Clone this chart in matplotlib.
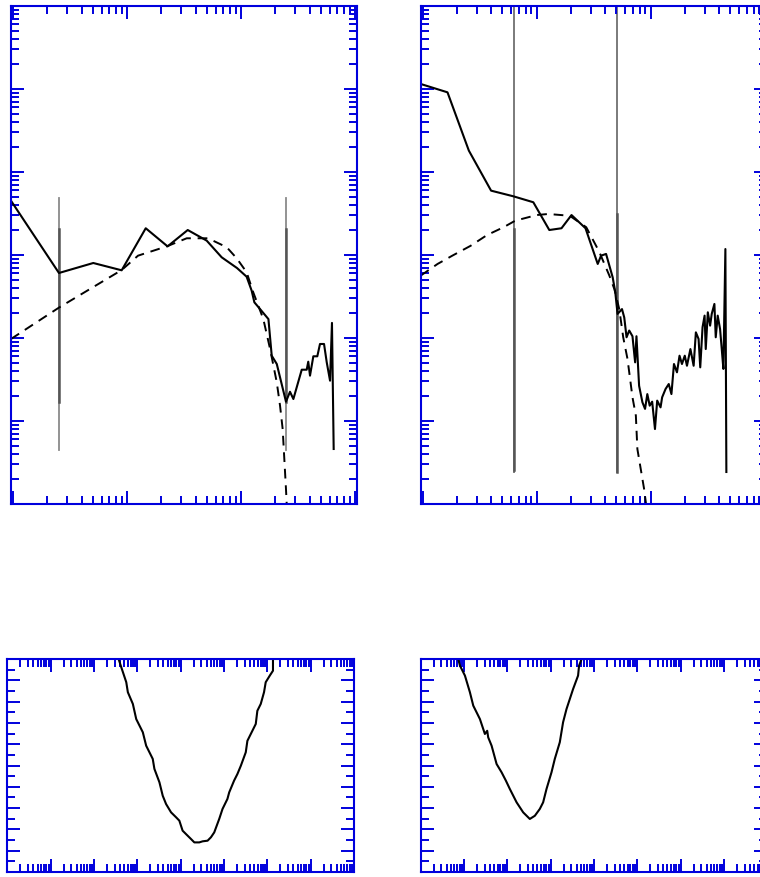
import matplotlib
matplotlib.use("Agg")
import matplotlib.pyplot as plt
from matplotlib.ticker import LogLocator, MultipleLocator, NullFormatter

# ---------------- data ----------------
# Top-left panel
tl_solid_x = [0.96, 2.53, 5.06, 8.98, 14.6, 22.7, 34.1, 50.0, 67.7, 92.2, 112, 124, 131, 142,
              174, 186, 206, 248, 269, 288, 341, 377, 389, 403, 431, 467, 493, 535, 565, 604,
              628, 650]
tl_solid_y = [4.51, 0.607, 0.801, 0.654, 2.10, 1.27, 2.00, 1.49, 0.938, 0.697, 0.548, 0.372,
              0.269, 0.236, 0.169, 0.0612, 0.0486, 0.0171, 0.0225, 0.0184, 0.0415, 0.0415,
              0.0518, 0.0352, 0.0602, 0.0602, 0.0847, 0.0847, 0.0509, 0.0306, 0.152, 0.0046]
tl_dash_x = [0.96, 2.55, 8.98, 12.5, 22.3, 33.4, 51.4, 75.0, 91.7, 112, 128, 157, 180, 206,
             220, 232, 248, 253]
tl_dash_y = [0.0973, 0.234, 0.659, 0.982, 1.27, 1.59, 1.59, 1.24, 0.912, 0.620, 0.356, 0.169,
             0.0736, 0.0292, 0.0153, 0.0080, 0.00152, 0.00087]
tl_vlines_x = [2.53, 248]
tl_vline_span = (4.86, 0.00448)
tl_vline_dark = (2.06, 0.0169)

# Top-right panel
tr_solid_x = [0.96, 1.65, 2.54, 3.98, 6.26, 9.34, 12.9, 16.5, 20.2, 26.8, 34.3, 36.7, 40.6,
              46.4, 48.9, 51.2, 56.0, 58.6, 61.4, 64.8, 69.2, 73.0, 75.0, 79.1, 84.6, 89.2,
              93.4, 98.0, 103, 109, 114, 122, 126, 135, 144, 152, 160, 170, 179, 188, 199,
              208, 223, 238, 249, 263, 272, 285, 297, 304, 317, 332, 343, 362, 372, 387,
              406, 420, 434, 452, 461]
tr_solid_y = [115, 91.2, 18.1, 5.96, 5.09, 4.32, 2.00, 2.10, 3.03, 2.10, 0.780, 0.982, 1.03,
              0.538, 0.356, 0.195, 0.223, 0.177, 0.102, 0.123, 0.105, 0.0509, 0.105, 0.0266,
              0.0168, 0.0140, 0.0211, 0.0153, 0.0171, 0.0080, 0.0176, 0.0146, 0.0193, 0.0243,
              0.0279, 0.0211, 0.0486, 0.0386, 0.0612, 0.0486, 0.0612, 0.0463, 0.0736, 0.0463,
              0.117, 0.0973, 0.0443, 0.135, 0.186, 0.0736, 0.204, 0.141, 0.195, 0.257, 0.102,
              0.186, 0.128, 0.0736, 0.0424, 1.18, 0.00243]
tr_dash_x = [0.96, 1.35, 1.82, 2.63, 3.67, 5.12, 6.48, 10.0, 12.6, 19.5, 27.2, 33.2, 35.5,
             43.4, 48.0, 53.0, 57.4, 62.6, 69.2, 74.1, 76.4, 87.5, 92.9]
tr_dash_y = [0.564, 0.780, 0.982, 1.29, 1.74, 2.16, 2.59, 3.03, 3.12, 2.97, 2.16, 1.29, 1.08,
             0.564, 0.389, 0.223, 0.102, 0.0558, 0.0193, 0.0116, 0.0046, 0.00152, 0.0008]
tr_vlines_x = [6.26, 50.2]
tr_vline_span = (2000, 0.00243)
tr_vline_dark = [(2.06, 0.0026), (3.12, 0.00243)]

# Bottom-left panel
bl_x = [3.52e2, 3.70e2, 4.27e2, 5.56e2, 6.05e2, 7.89e2, 9.44e2, 1.34e3, 1.60e3, 2.27e3, 2.48e3,
        3.24e3, 3.86e3, 4.61e3, 6.01e3, 7.83e3, 9.33e3, 1.11e4, 1.33e4, 1.73e4, 2.07e4,
        2.69e4, 3.21e4, 4.18e4, 5.00e4, 5.96e4, 7.76e4, 9.25e4, 1.20e5, 1.32e5, 1.71e5,
        2.04e5, 2.45e5, 3.18e5, 3.47e5, 4.52e5, 5.41e5, 5.89e5, 7.05e5, 8.39e5, 9.18e5,
        1.14e6, 1.35e6, 1.35e6]
bl_y = [10.2, 10.0, 9.61, 8.91, 8.44, 7.89, 7.18, 6.56, 5.93, 5.31, 4.84, 4.21, 3.58, 3.19,
        2.80, 2.57, 2.41, 1.94, 1.78, 1.55, 1.39, 1.39, 1.44, 1.47, 1.63, 1.86, 2.49, 2.96,
        3.43, 3.74, 4.29, 4.60, 4.99, 5.62, 6.16, 6.63, 6.95, 7.57, 7.89, 8.44, 8.91, 9.22,
        9.45, 10.3]

# Bottom-right panel
br_x = [7.12, 8.13, 10.6, 13.8, 16.5, 23.5, 30.6, 34.6, 36.5, 43.7, 57.0, 74.3, 93.3, 115,
        165, 234, 333, 435, 566, 676, 809, 1054, 1256, 1637, 1950, 2339, 2786, 3319, 4325,
        4560, 5700]
br_y = [10.14, 9.69, 9.22, 8.44, 7.81, 7.18, 6.48, 6.63, 6.32, 5.93, 5.07, 4.68, 4.29, 3.90,
        3.27, 2.80, 2.49, 2.64, 2.96, 3.27, 3.90, 4.68, 5.31, 6.09, 7.03, 7.65, 8.12, 8.59,
        9.22, 9.69, 10.2]

# ---------------- styling ----------------
BLUE = "#0000DD"
W, H = 760, 878
fig = plt.figure(figsize=(W / 100, H / 100), dpi=100)


def frac(left, top, width, height):
    return [left / W, (H - top - height) / H, width / W, height / H]


def style(ax):
    for s in ax.spines.values():
        s.set_color(BLUE)
        s.set_linewidth(1.5)
        s.set_zorder(5)
    ax.tick_params(which="both", direction="in", top=True, right=True, bottom=True, left=True,
                   color=BLUE, width=1.4, labelbottom=False, labelleft=False,
                   labeltop=False, labelright=False)
    ax.tick_params(which="major", length=9.5)
    ax.tick_params(which="minor", length=5.5)
    ax.xaxis.set_minor_formatter(NullFormatter())
    ax.yaxis.set_minor_formatter(NullFormatter())


def log_axis(axis):
    axis.set_major_locator(LogLocator(base=10, numticks=30))
    axis.set_minor_locator(LogLocator(base=10, subs=range(2, 10), numticks=30))


xlim_top = (10 ** -0.0175, 10 ** 3.0175)
ylim_top = (1e-3, 1e3)

# Top-left
ax1 = fig.add_axes(frac(11, 7, 346, 498))
ax1.set_xscale("log"); ax1.set_yscale("log")
for xv in tl_vlines_x:
    ax1.plot([xv, xv], tl_vline_span, color="#8a8a8a", lw=1.3, zorder=1)
    ax1.plot([xv, xv], tl_vline_dark, color="#555555", lw=1.8, zorder=1)
ax1.plot(tl_solid_x, tl_solid_y, color="black", lw=1.5, zorder=3)
ax1.plot(tl_dash_x, tl_dash_y, color="black", lw=1.4, dashes=(5, 3.5), zorder=3)
ax1.set_xlim(*xlim_top); ax1.set_ylim(*ylim_top)
log_axis(ax1.xaxis); log_axis(ax1.yaxis)
style(ax1)

# Top-right
ax2 = fig.add_axes(frac(420.7, 7, 346, 498))
ax2.set_xscale("log"); ax2.set_yscale("log")
for xv, dark in zip(tr_vlines_x, tr_vline_dark):
    ax2.plot([xv, xv], tr_vline_span, color="#7a7a7a", lw=1.4, zorder=1)
    ax2.plot([xv, xv], dark, color="#555555", lw=1.8, zorder=1)
ax2.plot(tr_solid_x, tr_solid_y, color="black", lw=1.5, zorder=3)
ax2.plot(tr_dash_x, tr_dash_y, color="black", lw=1.4, dashes=(5, 3.5), zorder=3)
ax2.set_xlim(*xlim_top); ax2.set_ylim(*ylim_top)
log_axis(ax2.xaxis); log_axis(ax2.yaxis)
style(ax2)

# Bottom-left
ax3 = fig.add_axes(frac(7.3, 660, 346.7, 213))
ax3.set_xscale("log")
ax3.plot(bl_x, bl_y, color="black", lw=1.5, zorder=3)
ax3.set_xlim(1, 1e8); ax3.set_ylim(0, 10)
log_axis(ax3.xaxis)
ax3.yaxis.set_major_locator(MultipleLocator(1))
ax3.yaxis.set_minor_locator(MultipleLocator(0.5))
style(ax3)

# Bottom-right
ax4 = fig.add_axes(frac(420.5, 660, 346.7, 213))
ax4.set_xscale("log")
ax4.plot(br_x, br_y, color="black", lw=1.5, zorder=3)
ax4.set_xlim(1, 1e8); ax4.set_ylim(0, 10)
log_axis(ax4.xaxis)
ax4.yaxis.set_major_locator(MultipleLocator(1))
ax4.yaxis.set_minor_locator(MultipleLocator(0.5))
style(ax4)

fig.savefig("out.png", dpi=100)
